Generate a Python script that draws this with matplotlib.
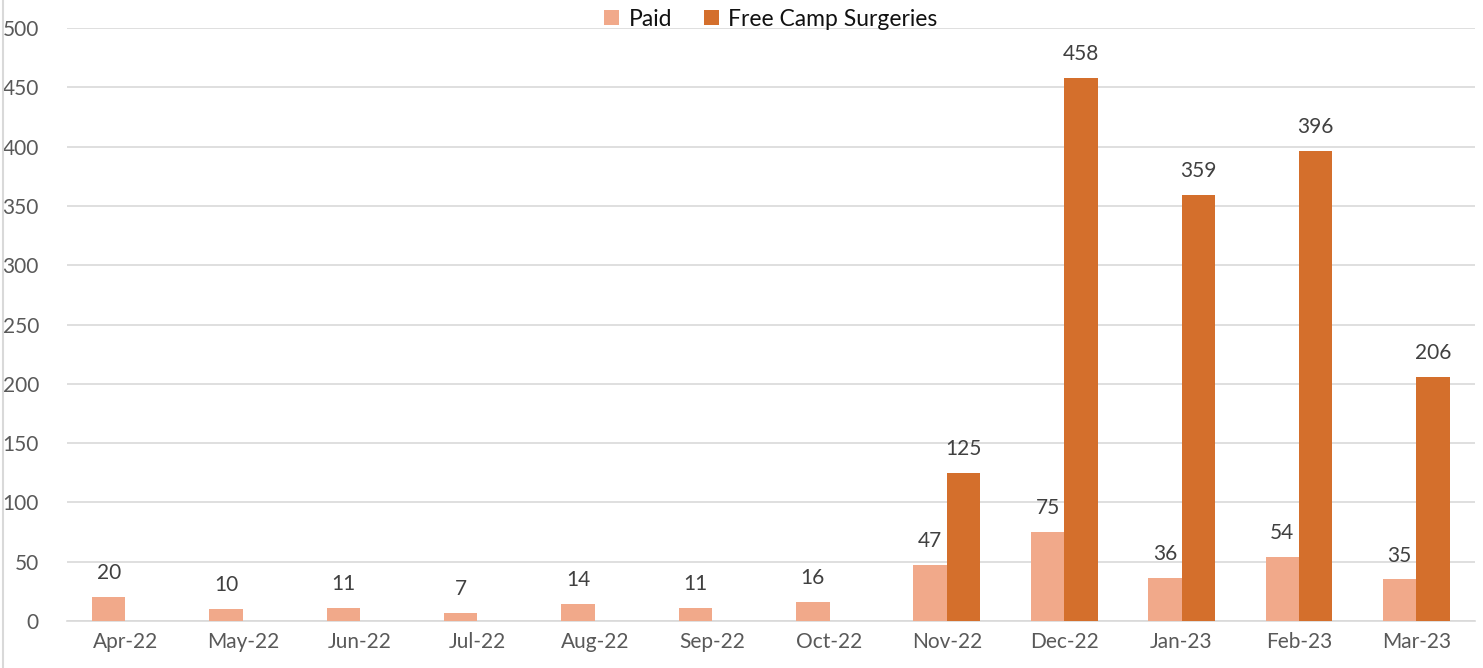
import numpy as np
import matplotlib.pyplot as plt
from matplotlib.lines import Line2D

months = ["Apr-22", "May-22", "Jun-22", "Jul-22", "Aug-22", "Sep-22",
          "Oct-22", "Nov-22", "Dec-22", "Jan-23", "Feb-23", "Mar-23"]
paid = [20, 10, 11, 7, 14, 11, 16, 47, 75, 36, 54, 35]
free_camp = [0, 0, 0, 0, 0, 0, 0, 125, 458, 359, 396, 206]

plt.rcParams['font.family'] = ['Lato', 'DejaVu Sans']

fig = plt.figure(figsize=(14.83, 6.68), dpi=100)
ax = fig.add_axes([0.045, 0.0704, 0.9496, 0.8876])

x = np.arange(len(months))
w = 0.285
b1 = ax.bar(x - w / 2, paid, w, color="#F1A98A", label="Paid", zorder=3)
b2 = ax.bar(x + w / 2, free_camp, w, color="#D46F2C", label="Free Camp Surgeries", zorder=3)

for bars, vals in ((b1, paid), (b2, free_camp)):
    for r, v in zip(bars, vals):
        if v == 0:
            continue
        ax.annotate(str(v), (r.get_x() + r.get_width() / 2, v),
                    xytext=(0, 10), textcoords="offset points",
                    ha="center", va="bottom", fontsize=15, color="#404040")

ax.set_xlim(-0.5, len(months) - 0.5)
ax.set_ylim(0, 500)
ax.set_yticks(np.arange(0, 501, 50))
ax.set_xticks(x)
ax.set_xticklabels(months)
ax.tick_params(axis="both", length=0, labelsize=15, labelcolor="#595959")
ax.tick_params(axis="y", pad=20)
ax.tick_params(axis="x", pad=8)
ax.grid(axis="y", color="#D9D9D9", linewidth=1.2, zorder=0)
for s in ["top", "right", "left"]:
    ax.spines[s].set_visible(False)
ax.spines["bottom"].set_color("#D9D9D9")
ax.spines["bottom"].set_linewidth(1.2)

leg = ax.legend(loc="center", bbox_to_anchor=(0.5, 1.015), ncol=2, frameon=False,
                fontsize=16.5, handlelength=0.65, handleheight=0.65, handletextpad=0.4,
                columnspacing=1.4, labelcolor="#111111")

fig.add_artist(Line2D([3 / 1483, 3 / 1483], [0, 1], transform=fig.transFigure,
                      color="#D9D9D9", linewidth=1.5))

fig.savefig("out.png", dpi=100)
